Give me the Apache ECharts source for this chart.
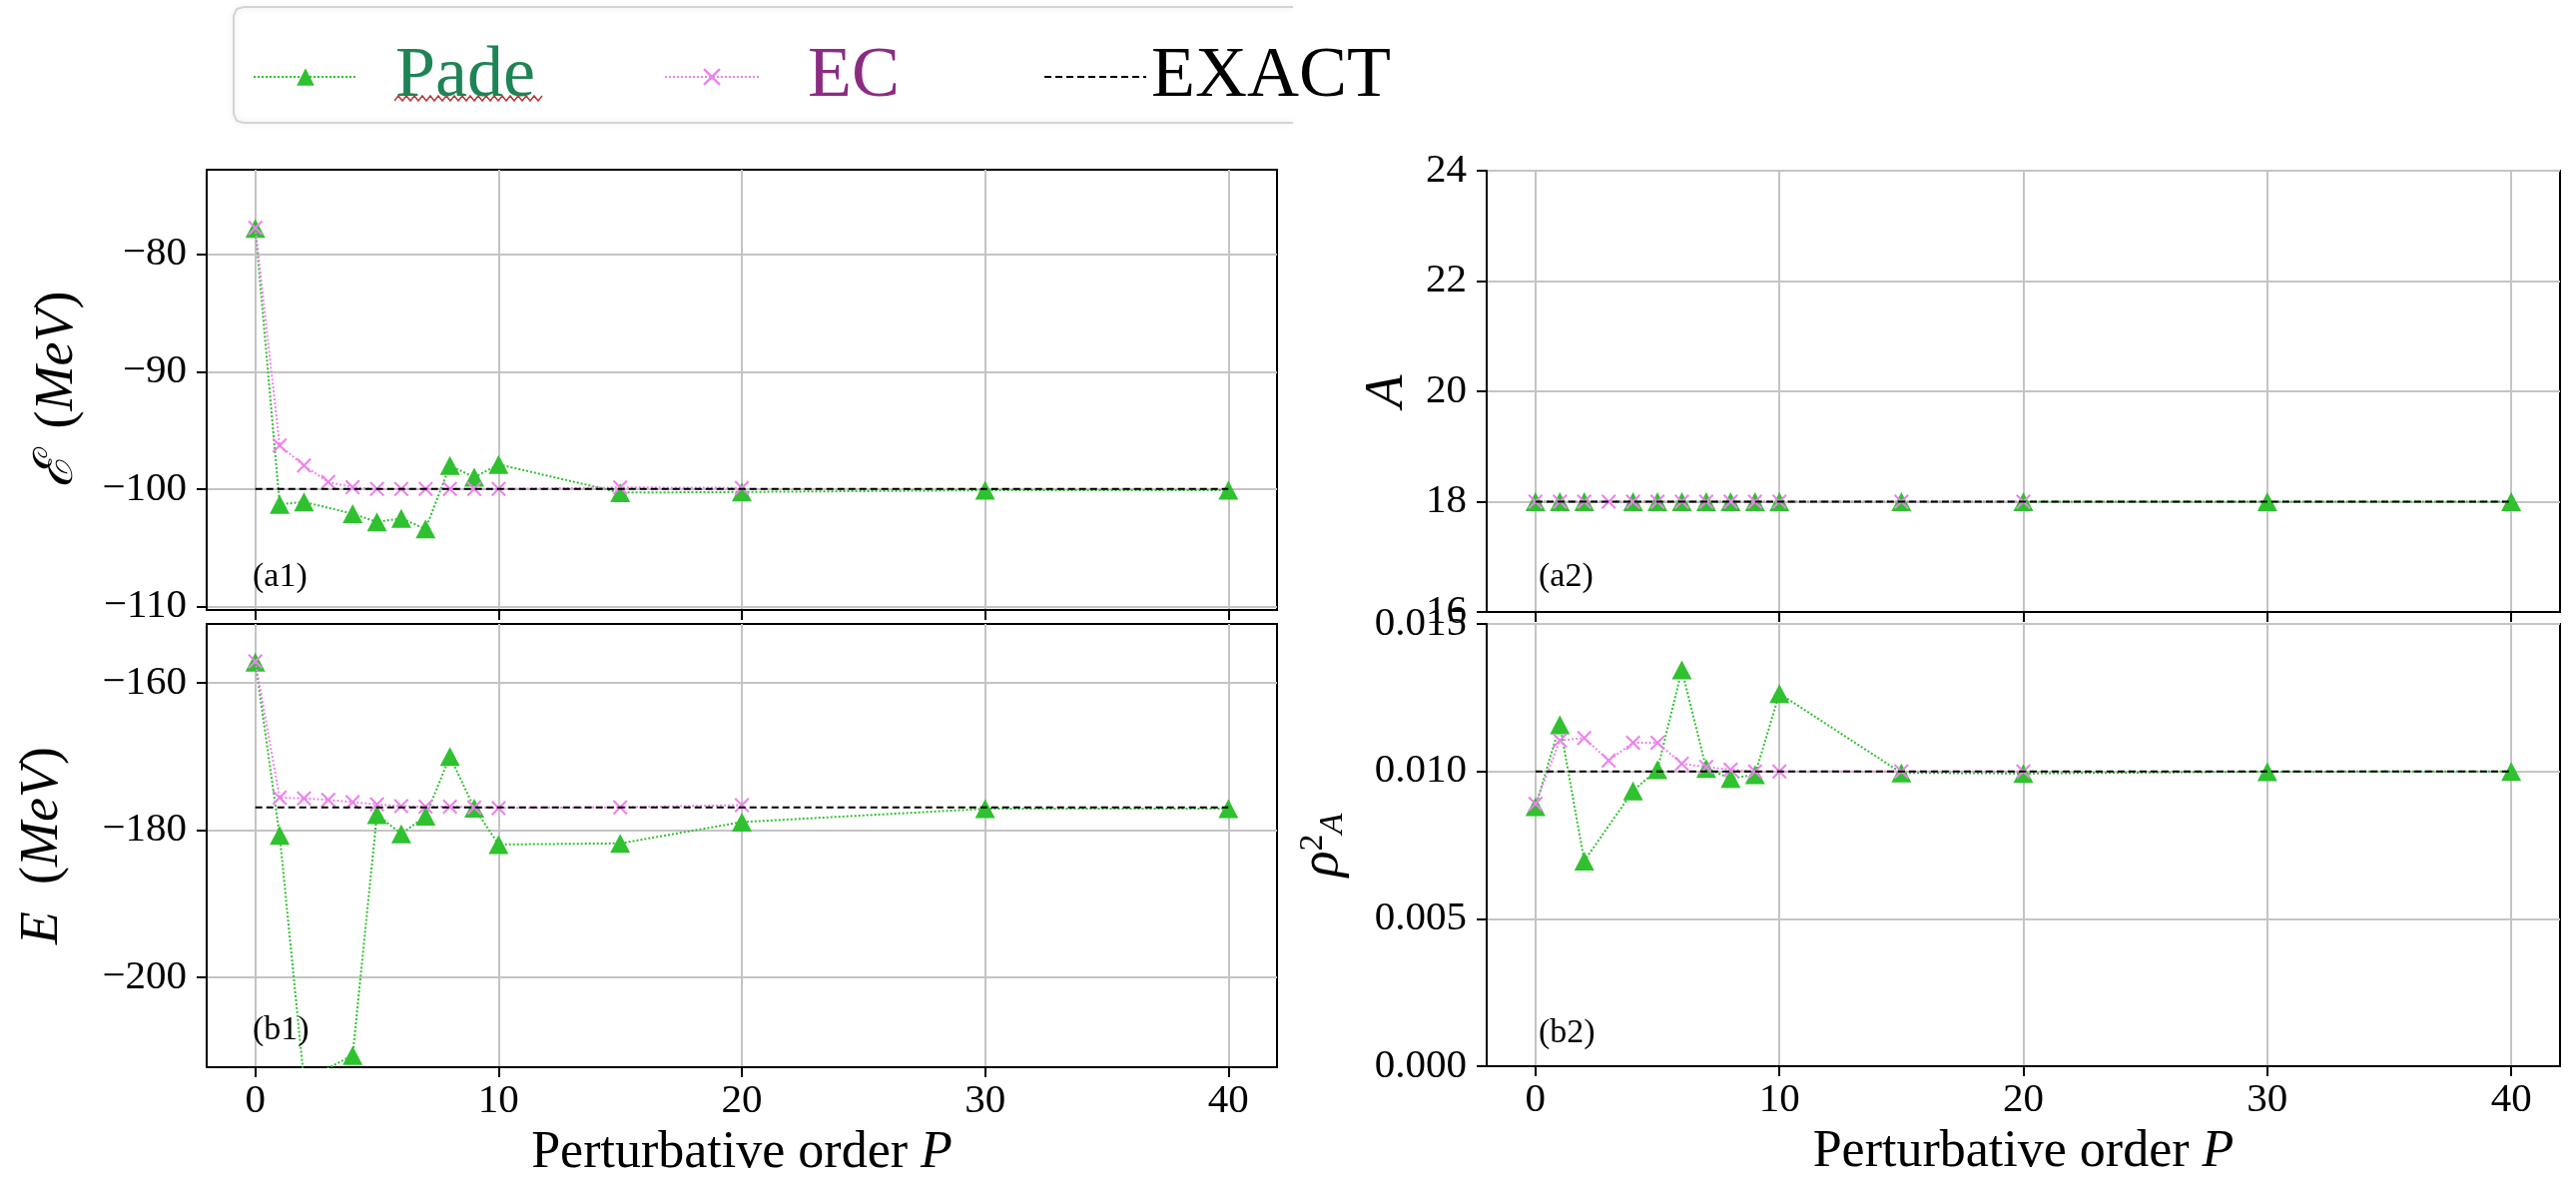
<!DOCTYPE html>
<html>
<head>
<meta charset="utf-8">
<script src="https://cdn.jsdelivr.net/npm/echarts@6/dist/echarts.min.js"></script>
<style>
html,body{margin:0;padding:0;background:#fff;}
#chart{width:2580px;height:1192px;}
</style>
</head>
<body>
<div id="chart"></div>
<script>
// ---------------- DATA ----------------
const P_PADE  = [0, 1, 2, 4, 5, 6, 7, 8, 9, 10, 15, 20, 30, 40];
const P_EC    = [0, 1, 2, 3, 4, 5, 6, 7, 8, 9, 10, 15, 20];
const P_EXACT = [0, 1, 2, 3, 4, 5, 6, 7, 8, 9, 10, 15, 20, 30, 40];
const X_TICKS = [0, 10, 20, 30, 40];

// (a1) intrinsic energy  E_cal (MeV)
const A1_PADE  = [-77.8, -101.3, -101.1, -102.1, -102.8, -102.5, -103.4, -98.0, -99.0, -97.9, -100.3, -100.25, -100.1, -100.1];
const A1_EC    = [-77.75, -96.3, -98.0, -99.4, -99.85, -100.0, -100.0, -100.0, -100.0, -100.0, -100.0, -99.86, -99.9];
const A1_EXACT = [-100, -100, -100, -100, -100, -100, -100, -100, -100, -100, -100, -100, -100, -100, -100];
const A1_YTICKS = [-110, -100, -90, -80];

// (b1) energy E (MeV)
const B1_PADE  = [-157.2, -180.7, -214.0, -210.6, -177.9, -180.5, -178.1, -170.0, -177.0, -181.95, -181.8, -178.9, -177.1, -177.1];
const B1_EC    = [-157.1, -175.6, -175.7, -175.9, -176.2, -176.5, -176.75, -176.8, -176.8, -176.9, -177.0, -176.9, -176.6];
const B1_EXACT = [-176.9, -176.9, -176.9, -176.9, -176.9, -176.9, -176.9, -176.9, -176.9, -176.9, -176.9, -176.9, -176.9, -176.9, -176.9];
const B1_YTICKS = [-200, -180, -160];

// (a2) particle number A
const A2_PADE  = [18, 18, 18, 18, 18, 18, 18, 18, 18, 18, 18, 18, 18, 18];
const A2_EC    = [18, 18, 18, 18, 18, 18, 18, 18, 18, 18, 18, 18, 18];
const A2_EXACT = [18, 18, 18, 18, 18, 18, 18, 18, 18, 18, 18, 18, 18, 18, 18];

// (b2) rho_A^2
const B2_PADE  = [0.0088, 0.01158, 0.00696, 0.00934, 0.01006, 0.01344, 0.0101, 0.00976, 0.00989, 0.01264, 0.00995, 0.00993, 0.00999, 0.0100];
const B2_EC    = [0.0089, 0.01105, 0.01113, 0.01037, 0.01097, 0.01097, 0.01026, 0.01015, 0.01006, 0.0100, 0.0100, 0.0100, 0.0100];
const B2_EXACT = [0.01, 0.01, 0.01, 0.01, 0.01, 0.01, 0.01, 0.01, 0.01, 0.01, 0.01, 0.01, 0.01, 0.01, 0.01];

// ---------------- STYLE ----------------
const FONT = '"Liberation Serif", "DejaVu Serif", serif';
const GREEN = '#2fc12f';
const VIOLET = '#ee82ee';
const XPATH = 'path://M0,1 L1,0 L5,4 L9,0 L10,1 L6,5 L10,9 L9,10 L5,6 L1,10 L0,9 L4,5 Z';

function pair(xs, ys) { return xs.map((x, i) => [x, ys[i]]); }
const minus = v => String(v).replace('-', '\u2212');

const grids = [
  { left: 207, top: 170, width: 1072, height: 441 },
  { left: 207, top: 625, width: 1072, height: 444 },
  { left: 1489, top: 171, width: 1075, height: 442 },
  { left: 1489, top: 625, width: 1075, height: 443 }
].map(g => Object.assign(g, { show: true, borderColor: '#000', borderWidth: 2, containLabel: false }));

function xAxisCfg(gi, showLabels) {
  return {
    type: 'value', gridIndex: gi, min: -2, max: 42,
    axisLine: { show: true, onZero: false, lineStyle: { color: '#000', width: 2 } },
    axisTick: { show: true, customValues: X_TICKS, length: 10, lineStyle: { color: '#000', width: 2 } },
    axisLabel: { show: showLabels, customValues: X_TICKS, fontSize: 41, fontFamily: FONT, color: '#000', margin: 14 },
    splitLine: { show: true, lineStyle: { color: '#c4c4c4', width: 2 } },
    name: showLabels ? '{n|Perturbative order }{i|P}' : '',
    nameLocation: 'middle', nameGap: 60,
    nameTextStyle: { rich: {
      n: { fontSize: 52, fontFamily: FONT, color: '#000' },
      i: { fontSize: 52, fontFamily: FONT, fontStyle: 'italic', color: '#000' }
    } }
  };
}

function yAxisCfg(gi, min, max, extra) {
  const base = {
    type: 'value', gridIndex: gi, min: min, max: max,
    axisLine: { show: true, onZero: false, lineStyle: { color: '#000', width: 2 } },
    axisTick: { show: true, length: 10, lineStyle: { color: '#000', width: 2 } },
    axisLabel: { fontSize: 41, fontFamily: FONT, color: '#000', margin: 20, formatter: minus },
    splitLine: { show: true, lineStyle: { color: '#c4c4c4', width: 2 } },
    nameLocation: 'middle', nameRotate: 90
  };
  return Object.assign(base, extra);
}

const nameRich = {
  n: { fontSize: 54, fontFamily: FONT, color: '#000' },
  i: { fontSize: 54, fontFamily: FONT, fontStyle: 'italic', color: '#000' },
  sup: { fontSize: 34, fontFamily: FONT, color: '#000', verticalAlign: 'top' },
  sub: { fontSize: 34, fontFamily: FONT, fontStyle: 'italic', color: '#000', verticalAlign: 'bottom' }
};

const yAxes = [
  yAxisCfg(0, -110.3, -72.8, {
    axisTick: { show: true, customValues: A1_YTICKS, length: 10, lineStyle: { color: '#000', width: 2 } },
    axisLabel: { customValues: A1_YTICKS, fontSize: 41, fontFamily: FONT, color: '#000', margin: 20, formatter: minus },
    name: '{i|\u2130}{n|  (}{i|MeV}{n|)}', nameGap: 122, nameTextStyle: { rich: nameRich }
  }),
  yAxisCfg(1, -212.2, -152, {
    axisTick: { show: true, customValues: B1_YTICKS, length: 10, lineStyle: { color: '#000', width: 2 } },
    axisLabel: { customValues: B1_YTICKS, fontSize: 41, fontFamily: FONT, color: '#000', margin: 20, formatter: minus },
    name: '{i|E}{n|  (}{i|MeV}{n|)}', nameGap: 137, nameTextStyle: { rich: nameRich }
  }),
  yAxisCfg(2, 16, 24, {
    interval: 2,
    name: '{i|A}', nameGap: 72, nameTextStyle: { rich: nameRich }
  }),
  yAxisCfg(3, 0, 0.015, {
    interval: 0.005,
    axisLabel: { fontSize: 41, fontFamily: FONT, color: '#000', margin: 20, formatter: v => v.toFixed(3) },
    name: '{i|\u03c1}{sup|2}{sub|A}', nameGap: 137, nameTextStyle: { rich: nameRich }
  })
];

const panels = [
  [A1_PADE, A1_EC, A1_EXACT],
  [B1_PADE, B1_EC, B1_EXACT],
  [A2_PADE, A2_EC, A2_EXACT],
  [B2_PADE, B2_EC, B2_EXACT]
];

const series = [];
panels.forEach((p, i) => {
  series.push({
    name: 'Pade', type: 'line', xAxisIndex: i, yAxisIndex: i,
    data: pair(P_PADE, p[0]),
    symbol: 'triangle', symbolSize: [20, 19],
    itemStyle: { color: GREEN },
    lineStyle: { color: GREEN, width: 2, type: 'dotted' },
    z: 3
  });
  series.push({
    name: 'EC', type: 'line', xAxisIndex: i, yAxisIndex: i,
    data: pair(P_EC, p[1]),
    symbol: XPATH, symbolSize: 15,
    itemStyle: { color: VIOLET },
    lineStyle: { color: VIOLET, width: 2, type: 'dotted' },
    z: 4
  });
  series.push({
    name: 'EXACT', type: 'line', xAxisIndex: i, yAxisIndex: i,
    data: pair(P_EXACT, p[2]),
    symbol: 'none',
    lineStyle: { color: '#000', width: 2, type: [7, 4] },
    z: 5
  });
});

function legendCfg(name, left, width, color, padLeft, hideSymbol) {
  const item = { name: name, textStyle: { color: color } };
  if (hideSymbol) item.itemStyle = { opacity: 0 };
  return {
    data: [item],
    left: left, top: 41, padding: 0,
    itemWidth: width, itemHeight: 22, selectedMode: false,
    textStyle: { fontSize: 72, fontFamily: FONT, color: color, padding: [0, 0, 16, padLeft] }
  };
}

// decorative wavy spell-check underline under "Pade"
const squiggle = [];
for (let x = 395, k = 0; x <= 543; x += 4, k++) squiggle.push([x, k % 2 ? 96 : 101]);

const option = {
  animation: false,
  backgroundColor: '#fff',
  grid: grids,
  xAxis: [xAxisCfg(0, false), xAxisCfg(1, true), xAxisCfg(2, false), xAxisCfg(3, true)],
  yAxis: yAxes,
  legend: [
    legendCfg('Pade', 253, 104, '#1f8455', 33, false),
    legendCfg('EC', 665, 94, '#8b2c82', 44, false),
    legendCfg('EXACT', 1045, 102, '#000', 0, true)
  ],
  series: series,
  graphic: [
    { type: 'polyline', shape: { points: [[1295, 7], [244, 7], [237, 9], [234, 16], [234, 114], [237, 121], [244, 123], [1295, 123]] },
      style: { stroke: '#d4d4d4', lineWidth: 2, fill: null, shadowBlur: 6, shadowColor: 'rgba(0,0,0,0.12)' }, z: 100 },
    { type: 'polyline', shape: { points: squiggle }, style: { stroke: '#b83a3a', lineWidth: 1.5, fill: null }, z: 100 },
    { type: 'text', x: 253, y: 578, style: { text: '(a1)', font: '34px ' + FONT, fill: '#000', verticalAlign: 'middle' }, z: 100 },
    { type: 'text', x: 253, y: 1032, style: { text: '(b1)', font: '34px ' + FONT, fill: '#000', verticalAlign: 'middle' }, z: 100 },
    { type: 'text', x: 1541, y: 578, style: { text: '(a2)', font: '34px ' + FONT, fill: '#000', verticalAlign: 'middle' }, z: 100 },
    { type: 'text', x: 1541, y: 1035, style: { text: '(b2)', font: '34px ' + FONT, fill: '#000', verticalAlign: 'middle' }, z: 100 }
  ]
};

const chart = echarts.init(document.getElementById('chart'), null, { renderer: 'canvas' });
chart.setOption(option);
</script>
</body>
</html>
